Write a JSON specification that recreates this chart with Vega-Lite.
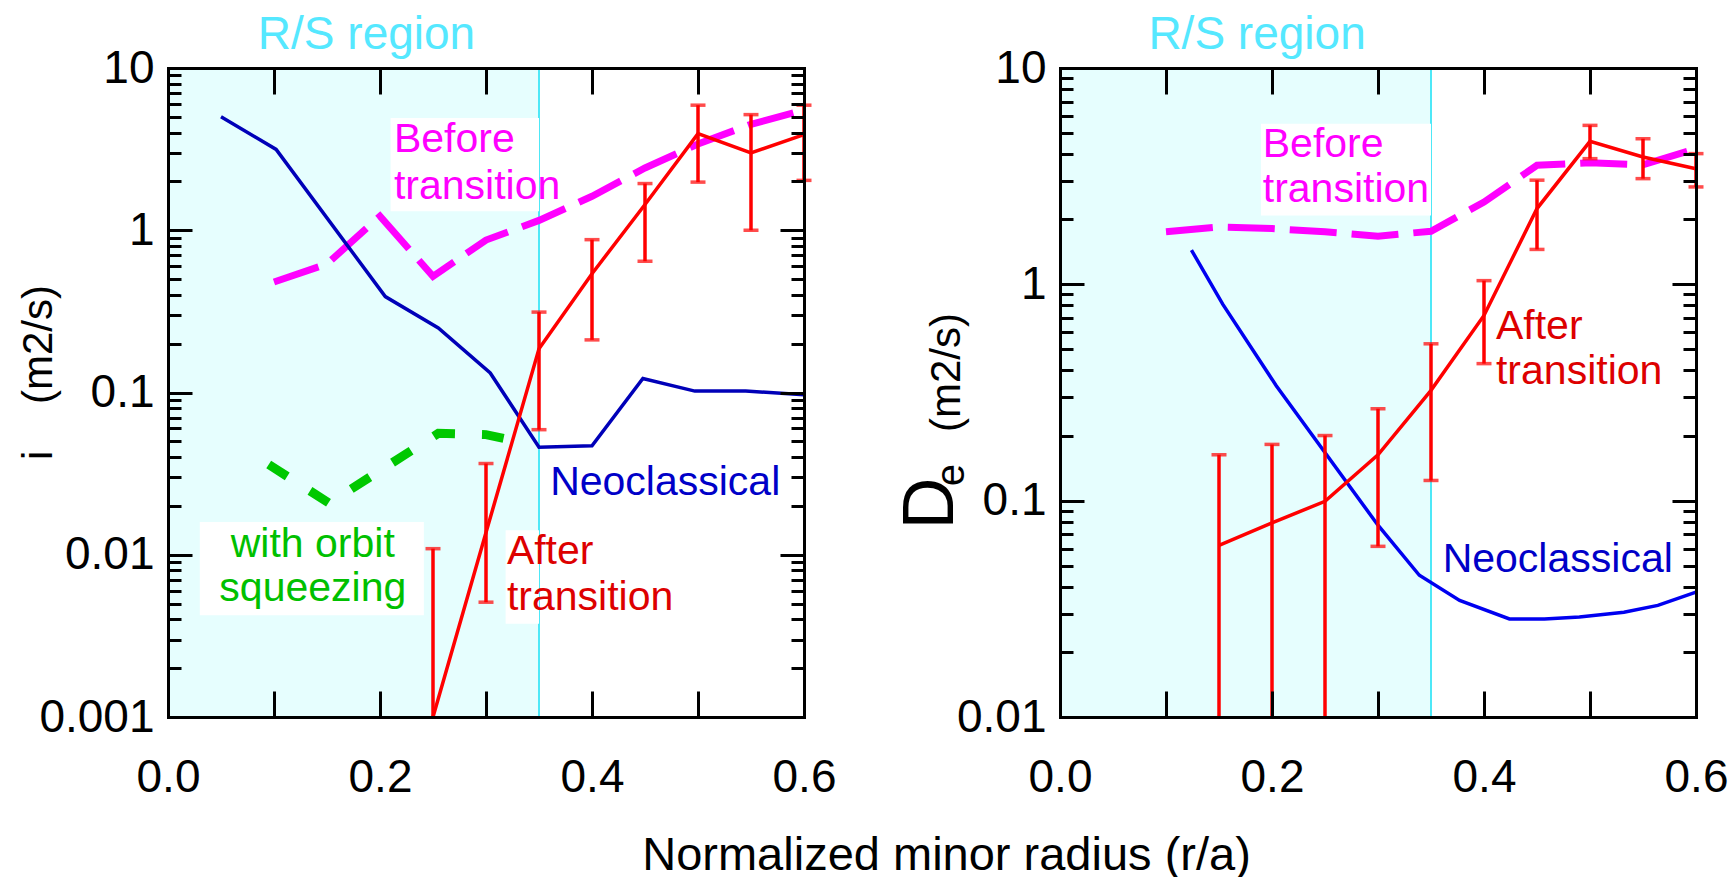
{
 "$schema": "https://vega.github.io/schema/vega-lite/v6.json",
 "autosize": {"type": "pad"},
 "padding": {"left": 17, "top": 11, "right": 0, "bottom": 0},
 "bounds": "flush",
 "spacing": 256,
 "background": "white",
 "config": {
  "view": {"stroke": null},
  "font": "Liberation Sans",
  "axis": {"zindex": 1, "ticks": false, "domainColor": "#000000", "domainWidth": 3, "domainCap": "square", "gridColor": "#000000", "gridWidth": 3, "gridOpacity": 1, "labelFont": "Liberation Sans", "labelColor": "#000000", "labelFontSize": 46, "titleFont": "Liberation Sans", "titleColor": "#000000", "titleFontWeight": "normal", "titleFontSize": 42, "labelOverlap": false, "labelFlush": false}
 },
 "datasets": {
  "neoL": [{"r":0.05,"v":5.0},{"r":0.102,"v":3.15},{"r":0.205,"v":0.39},{"r":0.255,"v":0.25},{"r":0.304,"v":0.132},{"r":0.35,"v":0.046},{"r":0.4,"v":0.047},{"r":0.448,"v":0.122},{"r":0.497,"v":0.102},{"r":0.545,"v":0.102},{"r":0.6,"v":0.097}],
  "magL": [{"r":0.1,"v":0.48},{"r":0.15,"v":0.62},{"r":0.2,"v":1.22},{"r":0.25,"v":0.52},{"r":0.3,"v":0.87},{"r":0.35,"v":1.15},{"r":0.4,"v":1.62},{"r":0.45,"v":2.42},{"r":0.5,"v":3.4},{"r":0.55,"v":4.5},{"r":0.6,"v":5.5}],
  "grnL": [{"r":0.095,"v":0.036},{"r":0.152,"v":0.0208},{"r":0.255,"v":0.056},{"r":0.3,"v":0.055},{"r":0.33,"v":0.05}],
  "redL": [{"r":0.25,"v":0.001,"lo":0.001,"hi":0.0109},{"r":0.3,"v":0.0137,"lo":0.0051,"hi":0.0365},{"r":0.35,"v":0.186,"lo":0.059,"hi":0.313},{"r":0.4,"v":0.54,"lo":0.211,"hi":0.875},{"r":0.45,"v":1.44,"lo":0.644,"hi":1.94},{"r":0.5,"v":3.94,"lo":1.98,"hi":5.9},{"r":0.55,"v":3.0,"lo":1.0,"hi":5.16},{"r":0.6,"v":3.88,"lo":2.03,"hi":5.9}],
  "boxL": [{"r1":0.21,"r2":0.35,"v1":1.31,"v2":4.92},{"r1":0.03,"r2":0.2414,"v1":0.00424,"v2":0.0159},{"r1":0.3185,"r2":0.35,"v1":0.00376,"v2":0.01415}],
  "labL": [{"r":0.2131,"v":3.035,"t":"Before","k":"before"},{"r":0.2131,"v":1.565,"t":"transition","k":"before"},{"r":0.3197,"v":0.00881,"t":"After","k":"after"},{"r":0.3197,"v":0.00455,"t":"transition","k":"after"},{"r":0.3605,"v":0.02323,"t":"Neoclassical","k":"neo"}],
  "orbL": [{"r":0.1366,"v":0.00968,"t":"with orbit"},{"r":0.1366,"v":0.00519,"t":"squeezing"}],
  "rsL": [{"r":0.1873,"v":13.1,"t":"R/S region"}],
  "neoR": [{"r":0.124,"v":1.44},{"r":0.1535,"v":0.81},{"r":0.204,"v":0.34},{"r":0.3,"v":0.077},{"r":0.339,"v":0.0452},{"r":0.377,"v":0.0346},{"r":0.424,"v":0.0284},{"r":0.457,"v":0.0284},{"r":0.49,"v":0.029},{"r":0.532,"v":0.0305},{"r":0.564,"v":0.0328},{"r":0.6,"v":0.0378}],
  "magR": [{"r":0.1,"v":1.75},{"r":0.15,"v":1.84},{"r":0.2,"v":1.81},{"r":0.25,"v":1.75},{"r":0.3,"v":1.67},{"r":0.35,"v":1.76},{"r":0.4,"v":2.4},{"r":0.45,"v":3.55},{"r":0.5,"v":3.65},{"r":0.55,"v":3.57},{"r":0.6,"v":4.24}],
  "redR": [{"r":0.15,"v":0.0621,"lo":0.01,"hi":0.163},{"r":0.2,"v":0.079,"lo":0.01,"hi":0.182},{"r":0.25,"v":0.0993,"lo":0.01,"hi":0.2},{"r":0.3,"v":0.163,"lo":0.0615,"hi":0.266},{"r":0.35,"v":0.3236,"lo":0.124,"hi":0.531},{"r":0.4,"v":0.718,"lo":0.43,"hi":1.04},{"r":0.45,"v":2.24,"lo":1.45,"hi":3.03},{"r":0.5,"v":4.58,"lo":3.81,"hi":5.43},{"r":0.55,"v":3.88,"lo":3.08,"hi":4.71},{"r":0.6,"v":3.42,"lo":2.82,"hi":4.02}],
  "boxR": [{"r1":0.1896,"r2":0.35,"v1":2.08,"v2":5.53}],
  "labR": [{"r":0.1913,"v":3.88,"t":"Before","k":"before"},{"r":0.1913,"v":2.4,"t":"transition","k":"before"},{"r":0.4113,"v":0.5565,"t":"After","k":"after"},{"r":0.4113,"v":0.347,"t":"transition","k":"after"},{"r":0.361,"v":0.0468,"t":"Neoclassical","k":"neo"}],
  "rsR": [{"r":0.1859,"v":12.24,"t":"R/S region"}],
  "dR": [{"r":-0.1217,"v":0.097,"t":"D"}],
  "eR": [{"r":-0.1015,"v":0.1313,"t":"e"}]
 },
 "hconcat": [
  {
   "width": 636, "height": 649,
   "resolve": {"axis": {"x": "independent", "y": "independent"}},
   "layer": [
    {"data": {"values": [{"r1": 0, "r2": 0.35}]}, "mark": {"type": "rect", "color": "#e6fefe"},
     "encoding": {"x": {"field": "r1", "type": "quantitative", "scale": {"domain": [0, 0.6], "nice": false, "zero": false}, "axis": null},
      "x2": {"field": "r2"}}},
    {"data": {"values": [{"r": 0.35}]}, "mark": {"type": "rule", "color": "#4de8f7", "strokeWidth": 2},
     "encoding": {"x": {"field": "r", "type": "quantitative", "scale": {"domain": [0, 0.6], "nice": false, "zero": false}, "axis": null}}},
    {"data": {"name": "boxL"}, "mark": {"type": "rect", "color": "#ffffff"},
     "encoding": {"x": {"field": "r1", "type": "quantitative", "scale": {"domain": [0, 0.6], "nice": false, "zero": false}, "axis": null},
      "x2": {"field": "r2"},
      "y": {"field": "v1", "type": "quantitative", "scale": {"type": "log", "domain": [0.001, 10], "nice": false}, "axis": null},
      "y2": {"field": "v2"}}},
    {"data": {"name": "magL"}, "mark": {"type": "line", "color": "#ff00ff", "strokeWidth": 7, "strokeDash": [47, 15]},
     "encoding": {"x": {"field": "r", "type": "quantitative", "scale": {"domain": [0, 0.6], "nice": false, "zero": false},
       "axis": {"orient": "bottom", "zindex": 1, "values": [0, 0.2, 0.4, 0.6], "format": ".1f", "ticks": false, "grid": false, "tickSize": 0, "labelPadding": 38,
        "title": "Normalized minor radius (r/a)", "titleX": 778, "titleY": 152, "titleAlign": "center", "titleBaseline": "alphabetic", "titleAngle": 0, "titleFontSize": 47}},
      "y": {"field": "v", "type": "quantitative", "scale": {"type": "log", "domain": [0.001, 10], "nice": false},
       "axis": {"orient": "left", "zindex": 1, "values": [0.001, 0.01, 0.1, 1, 10], "format": "~g", "ticks": false, "grid": false, "tickSize": 0, "labelPadding": 14,
        "title": "i\u00a0\u00a0\u00a0\u00a0(m2/s)", "titleX": -117, "titleY": 304, "titleAngle": 270, "titleAlign": "center", "titleBaseline": "alphabetic"}}}},
    {"data": {"name": "neoL"}, "mark": {"type": "line", "color": "#0000b8", "strokeWidth": 3.5},
     "encoding": {"x": {"field": "r", "type": "quantitative", "scale": {"domain": [0, 0.6], "nice": false, "zero": false},
       "axis": {"orient": "bottom", "zindex": 1, "values": [0.1, 0.2, 0.3, 0.4, 0.5], "grid": true, "gridDash": [26, 597], "labels": false, "domain": false, "title": null}},
      "y": {"field": "v", "type": "quantitative", "scale": {"type": "log", "domain": [0.001, 10], "nice": false},
       "axis": {"orient": "left", "zindex": 1, "values": [0.01, 0.1, 1], "grid": true, "gridDash": [24, 588], "labels": false, "domain": false, "title": null}}}},
    {"data": {"name": "grnL"}, "mark": {"type": "line", "color": "#00c800", "strokeWidth": 9, "strokeDash": [22, 27]},
     "encoding": {"x": {"field": "r", "type": "quantitative", "scale": {"domain": [0, 0.6], "nice": false, "zero": false},
       "axis": {"orient": "top", "zindex": 1, "grid": false, "labels": false, "domain": true, "title": null}},
      "y": {"field": "v", "type": "quantitative", "scale": {"type": "log", "domain": [0.001, 10], "nice": false},
       "axis": {"orient": "left", "zindex": 1, "values": [0.002,0.003,0.004,0.005,0.006,0.007,0.008,0.009,0.02,0.03,0.04,0.05,0.06,0.07,0.08,0.09,0.2,0.3,0.4,0.5,0.6,0.7,0.8,0.9,2,3,4,5,6,7,8,9], "grid": true, "gridDash": [13, 610], "labels": false, "domain": false, "title": null}}}},
    {"data": {"name": "redL"}, "mark": {"type": "line", "color": "#ff0000", "strokeWidth": 3.5},
     "encoding": {"x": {"field": "r", "type": "quantitative", "scale": {"domain": [0, 0.6], "nice": false, "zero": false}, "axis": null},
      "y": {"field": "v", "type": "quantitative", "scale": {"type": "log", "domain": [0.001, 10], "nice": false},
       "axis": {"orient": "right", "zindex": 1, "grid": false, "labels": false, "domain": true, "title": null}}}},
    {"data": {"name": "redL"}, "mark": {"type": "rule", "color": "#ff0000", "strokeWidth": 3.5},
     "encoding": {"x": {"field": "r", "type": "quantitative", "scale": {"domain": [0, 0.6], "nice": false, "zero": false}, "axis": null},
      "y": {"field": "lo", "type": "quantitative", "scale": {"type": "log", "domain": [0.001, 10], "nice": false}, "axis": null},
      "y2": {"field": "hi"}}},
    {"data": {"name": "redL"}, "transform": [{"fold": ["lo", "hi"], "as": ["end", "cap"]}, {"filter": "datum.cap > 0.00101"}],
     "mark": {"type": "tick", "orient": "horizontal", "size": 15, "thickness": 3.5, "color": "#ff0000"},
     "encoding": {"x": {"field": "r", "type": "quantitative", "scale": {"domain": [0, 0.6], "nice": false, "zero": false}, "axis": null},
      "y": {"field": "cap", "type": "quantitative", "scale": {"type": "log", "domain": [0.001, 10], "nice": false}, "axis": null}}},
    {"data": {"name": "labL"}, "mark": {"type": "text", "align": "left", "baseline": "alphabetic", "fontSize": 41},
     "encoding": {"x": {"field": "r", "type": "quantitative", "scale": {"domain": [0, 0.6], "nice": false, "zero": false}, "axis": null},
      "y": {"field": "v", "type": "quantitative", "scale": {"type": "log", "domain": [0.001, 10], "nice": false}, "axis": null},
      "text": {"field": "t"},
      "color": {"field": "k", "type": "nominal", "scale": {"domain": ["before", "after", "neo"], "range": ["#ff00ff", "#dd0000", "#0000c8"]}, "legend": null}}},
    {"data": {"name": "orbL"}, "mark": {"type": "text", "align": "center", "baseline": "alphabetic", "fontSize": 41, "color": "#00c000"},
     "encoding": {"x": {"field": "r", "type": "quantitative", "scale": {"domain": [0, 0.6], "nice": false, "zero": false}, "axis": null},
      "y": {"field": "v", "type": "quantitative", "scale": {"type": "log", "domain": [0.001, 10], "nice": false}, "axis": null},
      "text": {"field": "t"}}},
    {"data": {"name": "rsL"}, "mark": {"type": "text", "align": "center", "baseline": "alphabetic", "fontSize": 46, "color": "#55e8ff"},
     "encoding": {"x": {"field": "r", "type": "quantitative", "scale": {"domain": [0, 0.6], "nice": false, "zero": false}, "axis": null},
      "y": {"field": "v", "type": "quantitative", "scale": {"type": "log", "domain": [0.001, 10], "nice": false}, "axis": null},
      "text": {"field": "t"}}}
   ]
  },
  {
   "width": 636, "height": 649,
   "resolve": {"axis": {"x": "independent", "y": "independent"}},
   "layer": [
    {"data": {"values": [{"r1": 0, "r2": 0.35}]}, "mark": {"type": "rect", "color": "#e6fefe"},
     "encoding": {"x": {"field": "r1", "type": "quantitative", "scale": {"domain": [0, 0.6], "nice": false, "zero": false}, "axis": null},
      "x2": {"field": "r2"}}},
    {"data": {"values": [{"r": 0.35}]}, "mark": {"type": "rule", "color": "#4de8f7", "strokeWidth": 2},
     "encoding": {"x": {"field": "r", "type": "quantitative", "scale": {"domain": [0, 0.6], "nice": false, "zero": false}, "axis": null}}},
    {"data": {"name": "boxR"}, "mark": {"type": "rect", "color": "#ffffff"},
     "encoding": {"x": {"field": "r1", "type": "quantitative", "scale": {"domain": [0, 0.6], "nice": false, "zero": false}, "axis": null},
      "x2": {"field": "r2"},
      "y": {"field": "v1", "type": "quantitative", "scale": {"type": "log", "domain": [0.01, 10], "nice": false}, "axis": null},
      "y2": {"field": "v2"}}},
    {"data": {"name": "magR"}, "mark": {"type": "line", "color": "#ff00ff", "strokeWidth": 7, "strokeDash": [47, 15]},
     "encoding": {"x": {"field": "r", "type": "quantitative", "scale": {"domain": [0, 0.6], "nice": false, "zero": false},
       "axis": {"orient": "bottom", "zindex": 1, "values": [0, 0.2, 0.4, 0.6], "format": ".1f", "ticks": false, "grid": false, "tickSize": 0, "labelPadding": 38, "title": null}},
      "y": {"field": "v", "type": "quantitative", "scale": {"type": "log", "domain": [0.01, 10], "nice": false},
       "axis": {"orient": "left", "zindex": 1, "values": [0.01, 0.1, 1, 10], "format": "~g", "ticks": false, "grid": false, "tickSize": 0, "labelPadding": 14,
        "title": "(m2/s)", "titleX": -101, "titleY": 304, "titleAngle": 270, "titleAlign": "center", "titleBaseline": "alphabetic"}}}},
    {"data": {"name": "neoR"}, "mark": {"type": "line", "color": "#0000f0", "strokeWidth": 3.5},
     "encoding": {"x": {"field": "r", "type": "quantitative", "scale": {"domain": [0, 0.6], "nice": false, "zero": false},
       "axis": {"orient": "bottom", "zindex": 1, "values": [0.1, 0.2, 0.3, 0.4, 0.5], "grid": true, "gridDash": [26, 597], "labels": false, "domain": false, "title": null}},
      "y": {"field": "v", "type": "quantitative", "scale": {"type": "log", "domain": [0.01, 10], "nice": false},
       "axis": {"orient": "left", "zindex": 1, "values": [0.1, 1], "grid": true, "gridDash": [24, 588], "labels": false, "domain": false, "title": null}}}},
    {"data": {"name": "redR"}, "mark": {"type": "line", "color": "#ff0000", "strokeWidth": 3.5},
     "encoding": {"x": {"field": "r", "type": "quantitative", "scale": {"domain": [0, 0.6], "nice": false, "zero": false},
       "axis": {"orient": "top", "zindex": 1, "grid": false, "labels": false, "domain": true, "title": null}},
      "y": {"field": "v", "type": "quantitative", "scale": {"type": "log", "domain": [0.01, 10], "nice": false},
       "axis": {"orient": "left", "zindex": 1, "values": [0.02,0.03,0.04,0.05,0.06,0.07,0.08,0.09,0.2,0.3,0.4,0.5,0.6,0.7,0.8,0.9,2,3,4,5,6,7,8,9], "grid": true, "gridDash": [13, 610], "labels": false, "domain": false, "title": null}}}},
    {"data": {"name": "redR"}, "mark": {"type": "rule", "color": "#ff0000", "strokeWidth": 3.5},
     "encoding": {"x": {"field": "r", "type": "quantitative", "scale": {"domain": [0, 0.6], "nice": false, "zero": false}, "axis": null},
      "y": {"field": "lo", "type": "quantitative", "scale": {"type": "log", "domain": [0.01, 10], "nice": false},
       "axis": {"orient": "right", "zindex": 1, "grid": false, "labels": false, "domain": true, "title": null}},
      "y2": {"field": "hi"}}},
    {"data": {"name": "redR"}, "transform": [{"fold": ["lo", "hi"], "as": ["end", "cap"]}, {"filter": "datum.cap > 0.0101"}],
     "mark": {"type": "tick", "orient": "horizontal", "size": 15, "thickness": 3.5, "color": "#ff0000"},
     "encoding": {"x": {"field": "r", "type": "quantitative", "scale": {"domain": [0, 0.6], "nice": false, "zero": false}, "axis": null},
      "y": {"field": "cap", "type": "quantitative", "scale": {"type": "log", "domain": [0.01, 10], "nice": false}, "axis": null}}},
    {"data": {"name": "labR"}, "mark": {"type": "text", "align": "left", "baseline": "alphabetic", "fontSize": 41},
     "encoding": {"x": {"field": "r", "type": "quantitative", "scale": {"domain": [0, 0.6], "nice": false, "zero": false}, "axis": null},
      "y": {"field": "v", "type": "quantitative", "scale": {"type": "log", "domain": [0.01, 10], "nice": false}, "axis": null},
      "text": {"field": "t"},
      "color": {"field": "k", "type": "nominal", "scale": {"domain": ["before", "after", "neo"], "range": ["#ff00ff", "#dd0000", "#0000c8"]}, "legend": null}}},
    {"data": {"name": "rsR"}, "mark": {"type": "text", "align": "center", "baseline": "alphabetic", "fontSize": 46, "color": "#55e8ff"},
     "encoding": {"x": {"field": "r", "type": "quantitative", "scale": {"domain": [0, 0.6], "nice": false, "zero": false}, "axis": null},
      "y": {"field": "v", "type": "quantitative", "scale": {"type": "log", "domain": [0.01, 10], "nice": false}, "axis": null},
      "text": {"field": "t"}}},
    {"data": {"name": "dR"}, "mark": {"type": "text", "align": "center", "baseline": "middle", "angle": 270, "fontSize": 72, "color": "#000000"},
     "encoding": {"x": {"field": "r", "type": "quantitative", "scale": {"domain": [0, 0.6], "nice": false, "zero": false}, "axis": null},
      "y": {"field": "v", "type": "quantitative", "scale": {"type": "log", "domain": [0.01, 10], "nice": false}, "axis": null},
      "text": {"field": "t"}}},
    {"data": {"name": "eR"}, "mark": {"type": "text", "align": "center", "baseline": "middle", "angle": 270, "fontSize": 40, "color": "#000000"},
     "encoding": {"x": {"field": "r", "type": "quantitative", "scale": {"domain": [0, 0.6], "nice": false, "zero": false}, "axis": null},
      "y": {"field": "v", "type": "quantitative", "scale": {"type": "log", "domain": [0.01, 10], "nice": false}, "axis": null},
      "text": {"field": "t"}}}
   ]
  }
 ]
}
